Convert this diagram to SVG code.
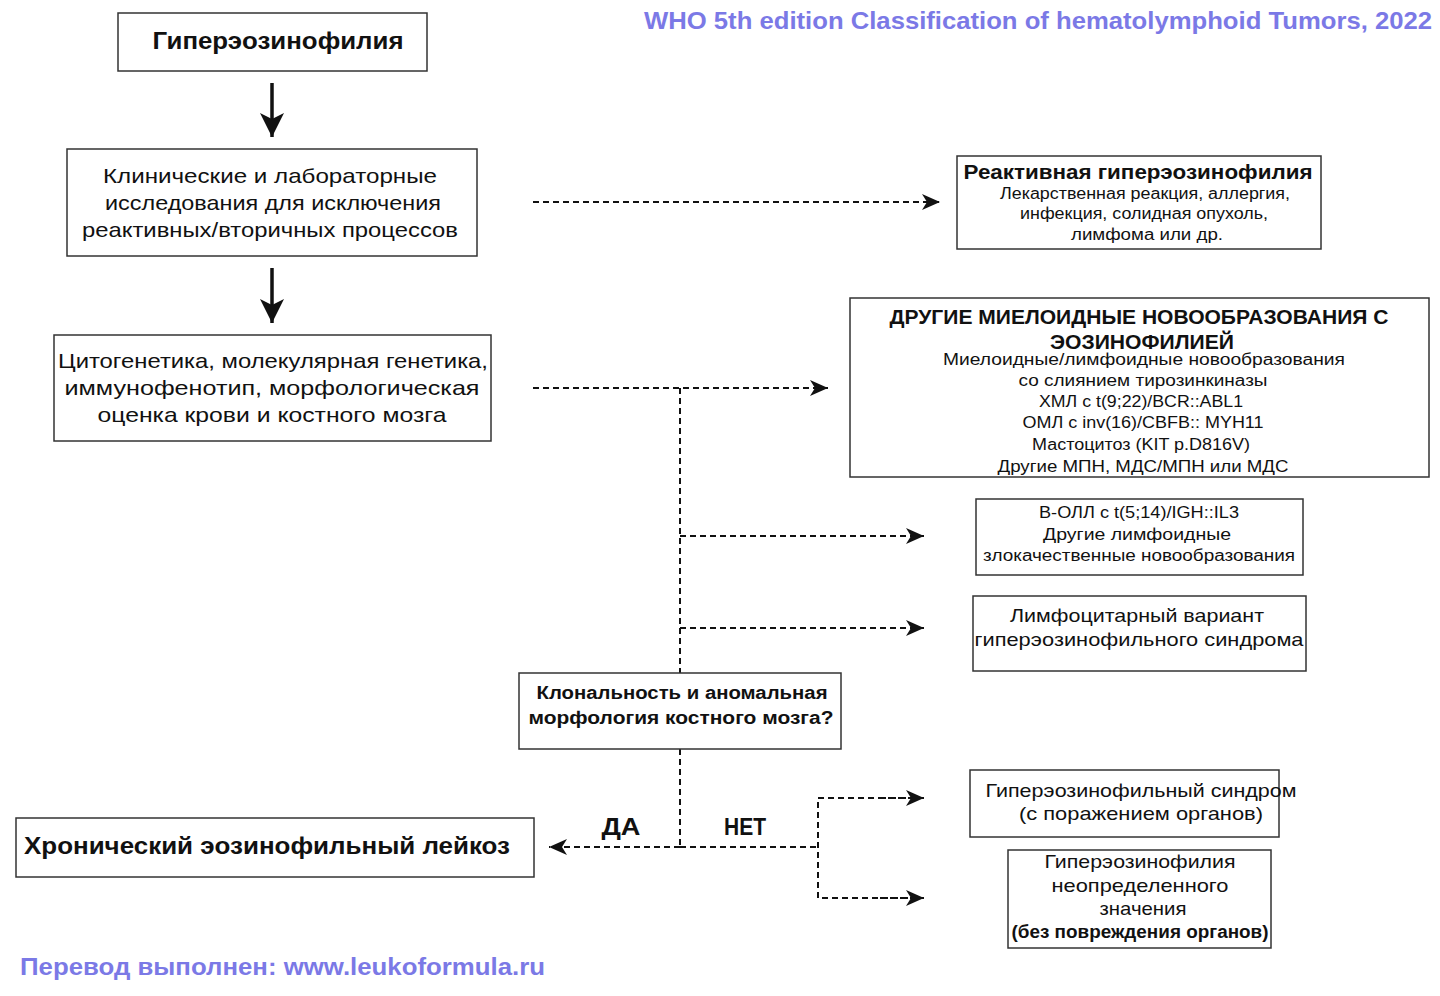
<svg xmlns="http://www.w3.org/2000/svg" width="1440" height="996" viewBox="0 0 1440 996">
<defs>
<style>
.box{fill:#fff;stroke:#333;stroke-width:1.5}
text{font-family:"Liberation Sans","DejaVu Sans",sans-serif;fill:#111;text-anchor:middle}
.b{font-weight:bold}
.blue{fill:#7b79e6;font-weight:bold}
.dash{fill:none;stroke:#111;stroke-width:2;stroke-dasharray:6 4}
.solid{fill:none;stroke:#111;stroke-width:3.5}
</style>
<marker id="ah" markerUnits="userSpaceOnUse" markerWidth="20" markerHeight="18" refX="18" refY="9" orient="auto">
<path d="M0,1 L18,9 L0,17 L5,9 z" fill="#111"/>
</marker>
<marker id="ahBig" markerUnits="userSpaceOnUse" markerWidth="26" markerHeight="26" refX="24" refY="13" orient="auto">
<path d="M0,1 L24,13 L0,25 L6,13 z" fill="#111"/>
</marker>
</defs>
<rect width="1440" height="996" fill="#fff"/>

<text id="header" class="blue" x="1432" y="29" font-size="24" style="text-anchor:end" textLength="788" lengthAdjust="spacingAndGlyphs">WHO 5th edition Classification of hematolymphoid Tumors, 2022</text>
<text id="footer" class="blue" x="20" y="975" font-size="23" style="text-anchor:start" textLength="525" lengthAdjust="spacingAndGlyphs">Перевод выполнен: www.leukoformula.ru</text>

<g id="connectors">
<line class="solid" x1="272" y1="83" x2="272" y2="137" marker-end="url(#ahBig)"/>
<line class="solid" x1="272" y1="268" x2="272" y2="323" marker-end="url(#ahBig)"/>
<line class="dash" x1="533" y1="202" x2="940" y2="202" marker-end="url(#ah)"/>
<line class="dash" x1="533" y1="388" x2="828" y2="388" marker-end="url(#ah)"/>
<line class="dash" x1="680" y1="388" x2="680" y2="673"/>
<line class="dash" x1="680" y1="536" x2="924" y2="536" marker-end="url(#ah)"/>
<line class="dash" x1="680" y1="628" x2="924" y2="628" marker-end="url(#ah)"/>
<line class="dash" x1="680" y1="749" x2="680" y2="847"/>
<line class="dash" x1="680" y1="847" x2="549" y2="847" marker-end="url(#ah)"/>
<line class="dash" x1="680" y1="847" x2="818" y2="847"/>
<path class="dash" d="M924,798 H818 V898 H924"/>
<line class="dash" x1="880" y1="798" x2="924" y2="798" marker-end="url(#ah)"/>
<line class="dash" x1="880" y1="898" x2="924" y2="898" marker-end="url(#ah)"/>
<text class="b" x="621" y="835" font-size="24" textLength="39" lengthAdjust="spacingAndGlyphs">ДА</text>
<text class="b" x="745" y="835" font-size="24" textLength="42" lengthAdjust="spacingAndGlyphs">НЕТ</text>
</g>

<g id="n-hypereos">
<rect class="box" x="118" y="13" width="309" height="58"/>
<text class="b" x="278" y="49" font-size="24" textLength="251" lengthAdjust="spacingAndGlyphs">Гиперэозинофилия</text>
</g>

<g id="n-clinical">
<rect class="box" x="67" y="149" width="410" height="107"/>
<text x="270" y="183" font-size="21" textLength="334" lengthAdjust="spacingAndGlyphs">Клинические и лабораторные</text>
<text x="273" y="210" font-size="21" textLength="336" lengthAdjust="spacingAndGlyphs">исследования для исключения</text>
<text x="270" y="237" font-size="21" textLength="376" lengthAdjust="spacingAndGlyphs">реактивных/вторичных процессов</text>
</g>

<g id="n-cyto">
<rect class="box" x="54" y="335" width="437" height="106"/>
<text x="273" y="368" font-size="21" textLength="430" lengthAdjust="spacingAndGlyphs">Цитогенетика, молекулярная генетика,</text>
<text x="272" y="395" font-size="21" textLength="415" lengthAdjust="spacingAndGlyphs">иммунофенотип, морфологическая</text>
<text x="272" y="422" font-size="21" textLength="349" lengthAdjust="spacingAndGlyphs">оценка крови и костного мозга</text>
</g>

<g id="n-reactive">
<rect class="box" x="957" y="156" width="364" height="93"/>
<text class="b" x="1138" y="179" font-size="20" textLength="349" lengthAdjust="spacingAndGlyphs">Реактивная гиперэозинофилия</text>
<text x="1145" y="199" font-size="16" textLength="290" lengthAdjust="spacingAndGlyphs">Лекарственная реакция, аллергия,</text>
<text x="1144" y="219" font-size="16" textLength="248" lengthAdjust="spacingAndGlyphs">инфекция, солидная опухоль,</text>
<text x="1147" y="240" font-size="16" textLength="152" lengthAdjust="spacingAndGlyphs">лимфома или др.</text>
</g>

<g id="n-myeloid">
<rect class="box" x="850" y="298" width="579" height="179"/>
<text class="b" x="1139" y="324" font-size="21" textLength="499" lengthAdjust="spacingAndGlyphs">ДРУГИЕ МИЕЛОИДНЫЕ НОВООБРАЗОВАНИЯ С</text>
<text class="b" x="1142" y="349" font-size="21" textLength="184" lengthAdjust="spacingAndGlyphs">ЭОЗИНОФИЛИЕЙ</text>
<text x="1144" y="365" font-size="16" textLength="402" lengthAdjust="spacingAndGlyphs">Миелоидные/лимфоидные новообразования</text>
<text x="1143" y="386" font-size="16" textLength="249" lengthAdjust="spacingAndGlyphs">со слиянием тирозинкиназы</text>
<text x="1141" y="407" font-size="16" textLength="204" lengthAdjust="spacingAndGlyphs">ХМЛ с t(9;22)/BCR::ABL1</text>
<text x="1143" y="428" font-size="16" textLength="241" lengthAdjust="spacingAndGlyphs">ОМЛ с inv(16)/CBFB:: MYH11</text>
<text x="1141" y="450" font-size="16" textLength="218" lengthAdjust="spacingAndGlyphs">Мастоцитоз (KIT p.D816V)</text>
<text x="1143" y="472" font-size="16" textLength="291" lengthAdjust="spacingAndGlyphs">Другие МПН, МДС/МПН или МДС</text>
</g>

<g id="n-ball">
<rect class="box" x="976" y="499" width="327" height="76"/>
<text x="1139" y="518" font-size="16" textLength="200" lengthAdjust="spacingAndGlyphs">B-ОЛЛ с t(5;14)/IGH::IL3</text>
<text x="1137" y="540" font-size="16" textLength="188" lengthAdjust="spacingAndGlyphs">Другие лимфоидные</text>
<text x="1139" y="561" font-size="16" textLength="312" lengthAdjust="spacingAndGlyphs">злокачественные новообразования</text>
</g>

<g id="n-lymph">
<rect class="box" x="973" y="596" width="333" height="75"/>
<text x="1137" y="622" font-size="19" textLength="254" lengthAdjust="spacingAndGlyphs">Лимфоцитарный вариант</text>
<text x="1139" y="646" font-size="19" textLength="329" lengthAdjust="spacingAndGlyphs">гиперэозинофильного синдрома</text>
</g>

<g id="n-clonality">
<rect class="box" x="519" y="673" width="322" height="76"/>
<text class="b" x="682" y="699" font-size="18" textLength="291" lengthAdjust="spacingAndGlyphs">Клональность и аномальная</text>
<text class="b" x="681" y="724" font-size="18" textLength="305" lengthAdjust="spacingAndGlyphs">морфология костного мозга?</text>
</g>

<g id="n-cel">
<rect class="box" x="16" y="818" width="518" height="59"/>
<text class="b" x="24" y="854" font-size="24" style="text-anchor:start" textLength="486" lengthAdjust="spacingAndGlyphs">Хронический эозинофильный лейкоз</text>
</g>

<g id="n-hes">
<rect class="box" x="970" y="770" width="309" height="67"/>
<text x="1141" y="797" font-size="19" textLength="311" lengthAdjust="spacingAndGlyphs">Гиперэозинофильный синдром</text>
<text x="1141" y="820" font-size="19" textLength="244" lengthAdjust="spacingAndGlyphs">(с поражением органов)</text>
</g>

<g id="n-heus">
<rect class="box" x="1008" y="850" width="263" height="98"/>
<text x="1140" y="868" font-size="19" textLength="191" lengthAdjust="spacingAndGlyphs">Гиперэозинофилия</text>
<text x="1140" y="892" font-size="19" textLength="177" lengthAdjust="spacingAndGlyphs">неопределенного</text>
<text x="1143" y="915" font-size="19" textLength="87" lengthAdjust="spacingAndGlyphs">значения</text>
<text class="b" x="1140" y="938" font-size="18" textLength="257" lengthAdjust="spacingAndGlyphs">(без повреждения органов)</text>
</g>
</svg>
